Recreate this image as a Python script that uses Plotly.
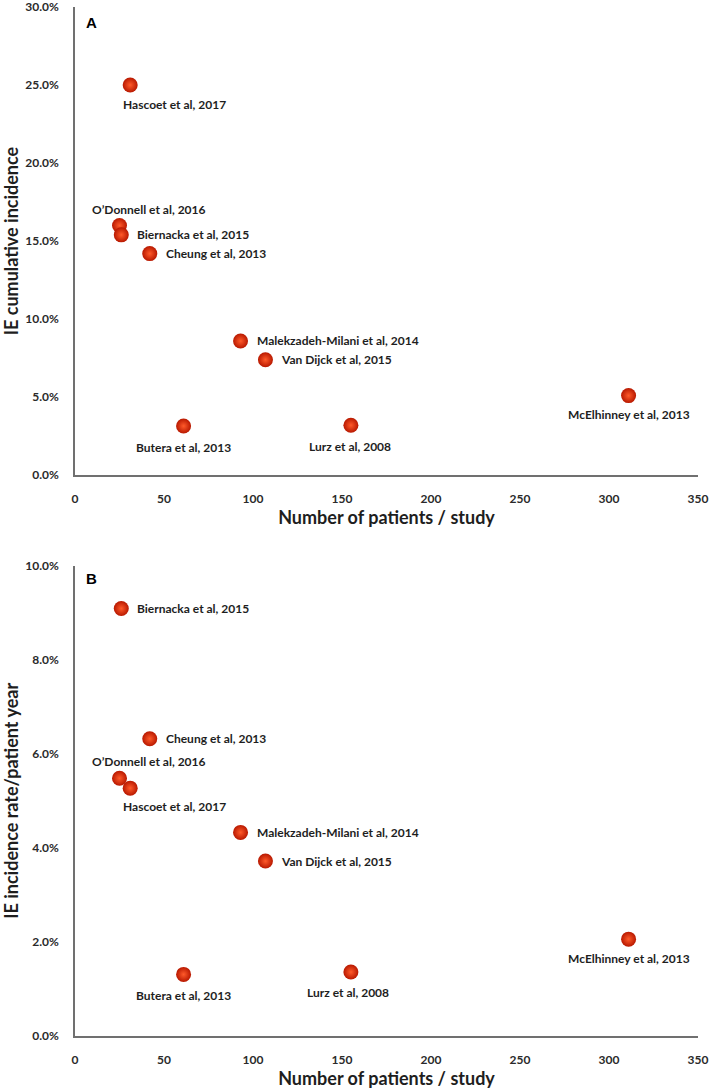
import plotly.graph_objects as go

# studies shown in both panels
studies = ["Hascoet et al, 2017", "O\u2019Donnell et al, 2016", "Biernacka et al, 2015",
           "Cheung et al, 2013", "Malekzadeh-Milani et al, 2014", "Van Dijck et al, 2015",
           "Butera et al, 2013", "Lurz et al, 2008", "McElhinney et al, 2013"]
patients = [31, 25, 26, 42, 93, 107, 61, 155, 311]
cum_incidence = [25.0, 16.0, 15.4, 14.2, 8.6, 7.4, 3.15, 3.2, 5.1]      # panel A, %
rate_per_year = [5.27, 5.48, 9.09, 6.32, 4.33, 3.72, 1.31, 1.36, 2.06]  # panel B, %

# label placement: (xanchor, yanchor, xshift, yshift)
place_a = {
    "Hascoet et al, 2017": ("left", "middle", -9, -19),
    "O\u2019Donnell et al, 2016": ("center", "middle", 29, 16),
    "Biernacka et al, 2015": ("left", "middle", 14, 0),
    "Cheung et al, 2013": ("left", "middle", 14, 0),
    "Malekzadeh-Milani et al, 2014": ("left", "middle", 14, 0),
    "Van Dijck et al, 2015": ("left", "middle", 14, 0),
    "Butera et al, 2013": ("center", "middle", 0, -21),
    "Lurz et al, 2008": ("center", "middle", -1, -21),
    "McElhinney et al, 2013": ("center", "middle", 0, -19),
}
place_b = dict(place_a)
place_b["Hascoet et al, 2017"] = ("left", "middle", -9, -18)
place_b["O\u2019Donnell et al, 2016"] = ("center", "middle", 29, 17)
place_b["Lurz et al, 2008"] = ("center", "middle", -3, -20)

FONT = "Lato"
# radial gradient: marker.color is the rim, gradient.color the centre
marker = dict(size=15, color="#b81800",
              gradient=dict(type="radial", color="#ff5a2a"),
              line=dict(width=0))

fig = go.Figure()
fig.add_trace(go.Scatter(x=patients, y=cum_incidence, mode="markers", marker=marker,
                         xaxis="x", yaxis="y", showlegend=False, cliponaxis=False))
fig.add_trace(go.Scatter(x=patients, y=rate_per_year, mode="markers", marker=marker,
                         xaxis="x2", yaxis="y2", showlegend=False, cliponaxis=False))

annots = []
for axn, vals, place in [("", cum_incidence, place_a), ("2", rate_per_year, place_b)]:
    for name, px, v in zip(studies, patients, vals):
        xa, ya, xs, ys = place[name]
        annots.append(dict(x=px, y=v, xref="x" + axn, yref="y" + axn, text=name,
                           showarrow=False, xanchor=xa, yanchor=ya, xshift=xs, yshift=ys,
                           font=dict(family=FONT, size=12, color="#1e1e1e", weight="bold")))
# panel letters
for letter, py in [("A", 0.9854), ("B", 0.445)]:
    annots.append(dict(x=0.027, y=py, xref="paper", yref="paper", text=letter,
                       showarrow=False, xanchor="center", yanchor="middle",
                       font=dict(family="Liberation Sans", size=15, color="#000",
                                 weight="bold")))

tickfont = dict(family=FONT, size=12, color="#2a2a2a", weight="bold")
titlefont = dict(family=FONT, size=18, color="#1e1e1e", weight="bold")
xcommon = dict(range=[0, 350], dtick=50, showline=True, linecolor="#707070", linewidth=1.5,
               showgrid=False, zeroline=False, ticks="", tickfont=tickfont,
               ticklabelstandoff=12, automargin=False, ticklabeloverflow="allow",
               title=dict(text="Number of patients / study", font=titlefont, standoff=6))
ycommon = dict(showline=True, linecolor="#707070", linewidth=1.5, showgrid=False,
               zeroline=False, ticks="", tickfont=tickfont, tickformat=".1f",
               ticksuffix="%", ticklabelstandoff=12, automargin=False,
               ticklabeloverflow="allow")

fig.update_layout(
    width=709, height=1089,
    margin=dict(l=75, r=11, t=7, b=53),
    plot_bgcolor="white", paper_bgcolor="white",
    xaxis=dict(xcommon, anchor="y"),
    yaxis=dict(ycommon, domain=[0.545, 1.0], range=[0, 30], dtick=5, anchor="x",
               title=dict(text="IE cumulative incidence", font=titlefont, standoff=4)),
    xaxis2=dict(xcommon, anchor="y2"),
    yaxis2=dict(ycommon, domain=[0.0, 0.457], range=[0, 10], dtick=2, anchor="x2",
                title=dict(text="IE incidence rate/patient year", font=titlefont, standoff=4)),
    annotations=annots,
)

# drop the page's default body margin so the figure fills the window
fig.write_html("out.html", config={"displayModeBar": False},
               post_script="document.body.style.margin='0';")
